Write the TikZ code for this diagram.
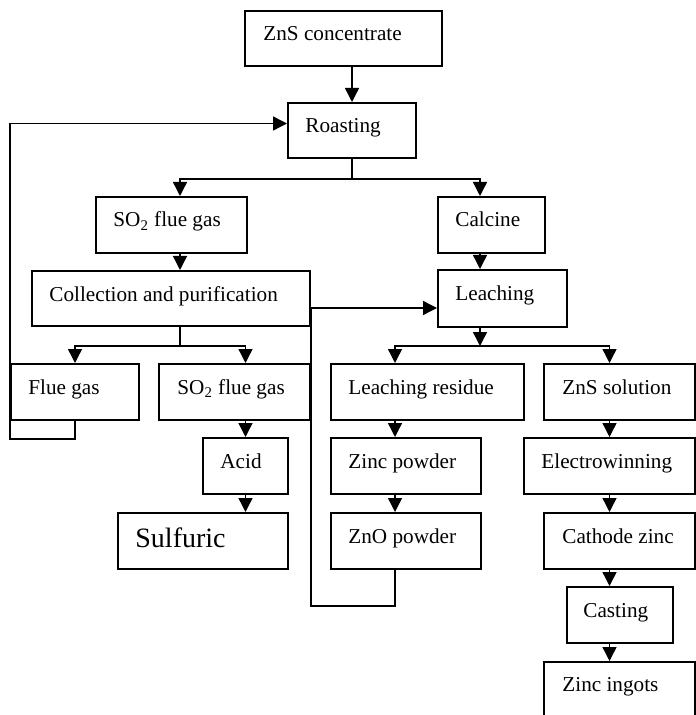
\documentclass[tikz,border=0pt]{standalone}
\usepackage{fontspec}
\setmainfont{Liberation Serif}
\usetikzlibrary{arrows.meta}
\tikzset{
  procbox/.style={draw,line width=1pt,anchor=north west,inner sep=0pt,minimum height=28pt},
  boxtext/.style={anchor=base west,inner sep=0pt,font=\fontsize{10.6}{12}\selectfont},
  flow/.style={line width=0.7pt},
  arr/.style={flow,-{Triangle[length=7pt,width=7pt]}}
}

\begin{document}
\begin{tikzpicture}[x=0.5pt,y=-0.5pt]
  \useasboundingbox (0,0) rectangle (695,715);
  % columns of the connectors
  \coordinate (xl) at (180,0);
  \coordinate (xc) at (480,0);
  \coordinate (xz) at (395,0);
  % boxes
  \node[procbox,minimum width=98.5pt,minimum height=27.5pt] (conc) at (244,10) {};
  \node[boxtext] (conc-t) at ([xshift=9.5pt,yshift=-15.5pt]conc.north west) {ZnS concentrate};
  \node[procbox,minimum width=64pt,minimum height=27.5pt] (roast) at (287,102) {};
  \node[boxtext] (roast-t) at ([xshift=9pt,yshift=-15.5pt]roast.north west) {Roasting};
  \node[procbox,minimum width=75.5pt] (so2a) at (95,196) {};
  \node[boxtext] (so2a-t) at ([xshift=9pt,yshift=-15.5pt]so2a.north west) {SO\textsubscript{2} flue gas};
  \node[procbox,minimum width=53.5pt] (calc) at (437,196) {};
  \node[boxtext] (calc-t) at ([xshift=9pt,yshift=-15.5pt]calc.north west) {Calcine};
  \node[procbox,minimum width=139pt,minimum height=27.5pt] (coll) at (31,270) {};
  \node[boxtext] (coll-t) at ([xshift=9pt,yshift=-15.5pt]coll.north west) {Collection and purification};
  \node[procbox,minimum width=64.5pt,minimum height=28.5pt] (leach) at (437,269) {};
  \node[boxtext] (leach-t) at ([xshift=9pt,yshift=-15.5pt]leach.north west) {Leaching};
  \node[procbox,minimum width=64pt] (flue) at (10,363) {};
  \node[boxtext] (flue-t) at ([xshift=9pt,yshift=-15.5pt]flue.north west) {Flue gas};
  \node[procbox,minimum width=75.5pt] (so2b) at (158,363) {};
  \node[boxtext] (so2b-t) at ([xshift=9.5pt,yshift=-15.5pt]so2b.north west) {SO\textsubscript{2} flue gas};
  \node[procbox,minimum width=96.5pt] (resid) at (330,363) {};
  \node[boxtext] (resid-t) at ([xshift=9pt,yshift=-15.5pt]resid.north west) {Leaching residue};
  \node[procbox,minimum width=75.5pt] (znsol) at (543,363) {};
  \node[boxtext] (znsol-t) at ([xshift=9.5pt,yshift=-15.5pt]znsol.north west) {ZnS solution};
  \node[procbox,minimum width=42.5pt] (acid) at (202,437) {};
  \node[boxtext] (acid-t) at ([xshift=9pt,yshift=-15.5pt]acid.north west) {Acid};
  \node[procbox,minimum width=75pt] (znpow) at (330,437) {};
  \node[boxtext] (znpow-t) at ([xshift=9pt,yshift=-15.5pt]znpow.north west) {Zinc powder};
  \node[procbox,minimum width=85.5pt] (elec) at (523,437) {};
  \node[boxtext] (elec-t) at ([xshift=9pt,yshift=-15.5pt]elec.north west) {Electrowinning};
  \node[procbox,minimum width=85pt] (sulf) at (117,512) {};
  \node[boxtext,font=\fontsize{14}{16}\selectfont] (sulf-t) at ([xshift=9pt,yshift=-17.5pt]sulf.north west) {Sulfuric};
  \node[procbox,minimum width=75pt] (zno) at (330,512) {};
  \node[boxtext] (zno-t) at ([xshift=9pt,yshift=-15.5pt]zno.north west) {ZnO powder};
  \node[procbox,minimum width=75.5pt] (cath) at (543,512) {};
  \node[boxtext] (cath-t) at ([xshift=9.5pt,yshift=-15.5pt]cath.north west) {Cathode zinc};
  \node[procbox,minimum width=53pt] (cast) at (566,586) {};
  \node[boxtext] (cast-t) at ([xshift=8.5pt,yshift=-15.5pt]cast.north west) {Casting};
  \node[procbox,minimum width=75.5pt,minimum height=31pt] (ingot) at (543,661) {};
  \node[boxtext] (ingot-t) at ([xshift=9.5pt,yshift=-15pt]ingot.north west) {Zinc ingots};
  % main flow
  \draw[arr] (conc.south -| roast.north) -- (roast.north);
  \draw[flow] (roast.south) -- ++(0,20) coordinate (rs);
  \draw[arr] (rs) -| (so2a.north -| xl);
  \draw[arr] (rs) -| (calc.north -| xc);
  \draw[arr] (so2a.south -| xl) -- (coll.north -| xl);
  \draw[arr] (calc.south -| xc) -- (leach.north -| xc);
  \draw[flow] (coll.south -| xl) -- ++(0,19) coordinate (cs);
  \draw[arr] (cs) -| (flue.north);
  \draw[arr] (cs) -| (so2b.north -| acid.north);
  \draw[arr] (so2b.south -| acid.north) -- (acid.north);
  \draw[arr] (acid.south) -- (sulf.north -| acid.south);
  \draw[arr] (leach.south -| xc) -- ++(0,18) coordinate (ls);
  \draw[arr] (ls) -| (resid.north -| xz);
  \draw[arr] (ls) -| (znsol.north -| elec.north);
  \draw[arr] (resid.south -| xz) -- (znpow.north -| xz);
  \draw[arr] (znpow.south -| xz) -- (zno.north -| xz);
  \draw[arr] (znsol.south -| elec.north) -- (elec.north);
  \draw[arr] (elec.south) -- (cath.north -| elec.south);
  \draw[arr] (cath.south -| elec.south) -- (cast.north -| elec.south);
  \draw[arr] (cast.south -| elec.south) -- (ingot.north -| elec.south);
  % recycle loops
  \coordinate (rin) at ([yshift=3.5pt]roast.west);
  \draw[arr] (flue.south) -- ++(0,18) -| (flue.west |- rin) -- (rin);
  \coordinate (lin) at ([yshift=-4.75pt]leach.west);
  \draw[arr] (zno.south -| xz) -- ++(0,36) -| (coll.east |- lin) -- (lin);
\end{tikzpicture}
\end{document}
